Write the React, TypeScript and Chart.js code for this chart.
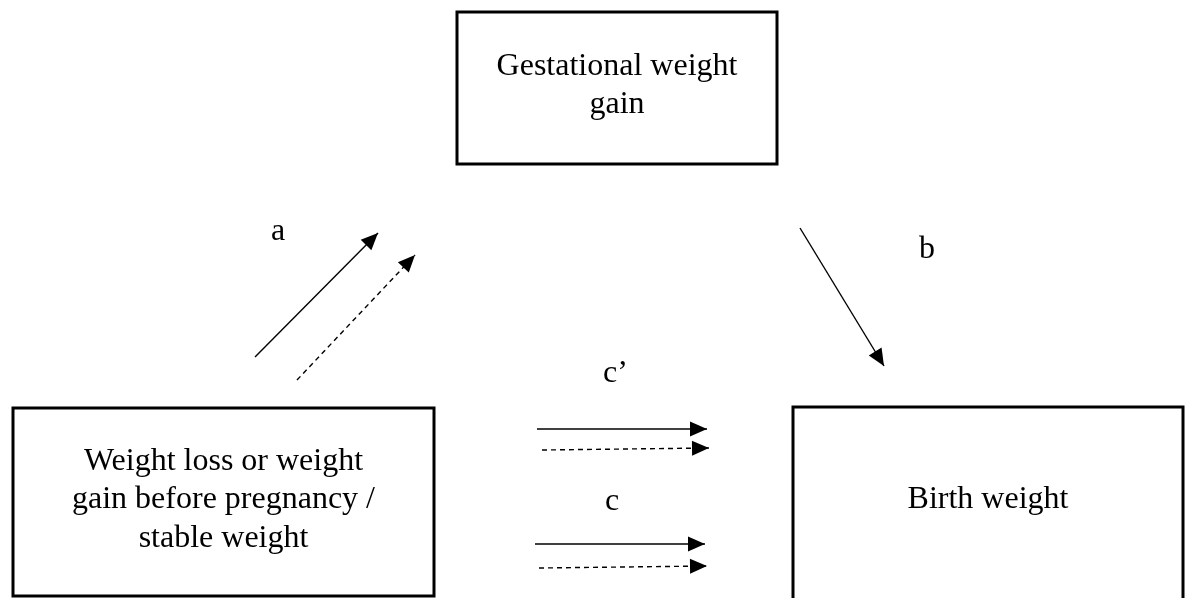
import React, { useEffect, useRef } from "react";
import { Chart, registerables } from "chart.js";

Chart.register(...registerables);

// Diagram nodes (boxes) in diagram units (x: 0..1186, y: 0..598, y downward)
const boxNames = ["mediator", "exposure", "outcome"];
const boxLeft = [457, 13, 793];
const boxTop = [12, 408, 407];
const boxRight = [777, 434, 1183];
const boxBottom = [164, 596, 606];
const boxLines = [
  ["Gestational weight", "gain"],
  ["Weight loss or weight", "gain before pregnancy /", "stable weight"],
  ["Birth weight"],
];
const boxBaselines = [
  [75, 113],
  [470, 508, 547],
  [508],
];

// Arrows (paths)
const arrowFromX = [255, 297, 800, 537, 542, 535, 539];
const arrowFromY = [357, 380, 228, 429, 450, 544, 568];
const arrowToX = [378, 415, 884, 707, 709, 705, 707];
const arrowToY = [233, 255, 366, 429, 448, 544, 566];
const arrowDashed = [false, true, false, false, true, false, true];

// Path labels
const labelText = ["a", "b", "c\u2019", "c"];
const labelX = [278, 927, 603, 605];
const labelY = [240, 258, 382, 510];
const labelAlign: CanvasTextAlign[] = ["center", "center", "left", "left"];

const FONT = '32px "Liberation Serif", "Times New Roman", serif';

export default function App() {
  const ref = useRef<HTMLCanvasElement | null>(null);

  useEffect(() => {
    if (!ref.current) return;

    const datasets = arrowFromX.map((fx, i) => ({
      type: "line" as const,
      label: "path" + i,
      data: [
        { x: fx, y: arrowFromY[i] },
        { x: arrowToX[i], y: arrowToY[i] },
      ],
      borderColor: "#000",
      borderWidth: 1.4,
      borderDash: arrowDashed[i] ? [5, 4] : [],
      borderCapStyle: "butt" as const,
      pointRadius: 0,
      showLine: true,
      fill: false,
      tension: 0,
    }));

    const diagramPlugin = {
      id: "diagram",
      beforeDatasetsDraw(chart: any) {
        const ctx = chart.ctx as CanvasRenderingContext2D;
        const xs = chart.scales.x;
        const ys = chart.scales.y;
        ctx.save();
        ctx.strokeStyle = "#000";
        ctx.lineWidth = 3;
        boxNames.forEach((_, i) => {
          const l = xs.getPixelForValue(boxLeft[i]);
          const r = xs.getPixelForValue(boxRight[i]);
          const t = ys.getPixelForValue(boxTop[i]);
          const b = ys.getPixelForValue(boxBottom[i]);
          ctx.strokeRect(l, t, r - l, b - t);
          const cx = (l + r) / 2;
          ctx.fillStyle = "#000";
          ctx.font = FONT;
          ctx.textAlign = "center";
          ctx.textBaseline = "alphabetic";
          boxLines[i].forEach((line, j) => {
            ctx.fillText(line, cx, ys.getPixelForValue(boxBaselines[i][j]));
          });
        });
        labelText.forEach((txt, i) => {
          ctx.font = FONT;
          ctx.fillStyle = "#000";
          ctx.textAlign = labelAlign[i];
          ctx.textBaseline = "alphabetic";
          ctx.fillText(txt, xs.getPixelForValue(labelX[i]), ys.getPixelForValue(labelY[i]));
        });
        ctx.restore();
      },
      afterDatasetsDraw(chart: any) {
        const ctx = chart.ctx as CanvasRenderingContext2D;
        const xs = chart.scales.x;
        const ys = chart.scales.y;
        ctx.save();
        ctx.fillStyle = "#000";
        arrowFromX.forEach((fx, i) => {
          const x0 = xs.getPixelForValue(fx);
          const y0 = ys.getPixelForValue(arrowFromY[i]);
          const x1 = xs.getPixelForValue(arrowToX[i]);
          const y1 = ys.getPixelForValue(arrowToY[i]);
          const ang = Math.atan2(y1 - y0, x1 - x0);
          const len = 17;
          const hw = 7.5;
          const bx = x1 - Math.cos(ang) * len;
          const by = y1 - Math.sin(ang) * len;
          ctx.beginPath();
          ctx.moveTo(x1, y1);
          ctx.lineTo(bx - Math.sin(ang) * hw, by + Math.cos(ang) * hw);
          ctx.lineTo(bx + Math.sin(ang) * hw, by - Math.cos(ang) * hw);
          ctx.closePath();
          ctx.fill();
        });
        ctx.restore();
      },
    };

    const chart = new Chart(ref.current, {
      type: "scatter",
      data: { datasets: datasets as any },
      options: {
        responsive: false,
        animation: false,
        events: [],
        layout: { padding: 0 },
        plugins: {
          legend: { display: false },
          tooltip: { enabled: false },
          title: { display: false },
        },
        scales: {
          x: { type: "linear", min: 0, max: 1186, display: false },
          y: { type: "linear", min: 0, max: 598, reverse: true, display: false },
        },
      },
      plugins: [diagramPlugin],
    });

    return () => chart.destroy();
  }, []);

  return (
    <div style={{ position: "fixed", left: 0, top: 0, width: 1186, height: 598, background: "#fff" }}>
      <canvas ref={ref} width={1186} height={598} style={{ display: "block" }} />
    </div>
  );
}
